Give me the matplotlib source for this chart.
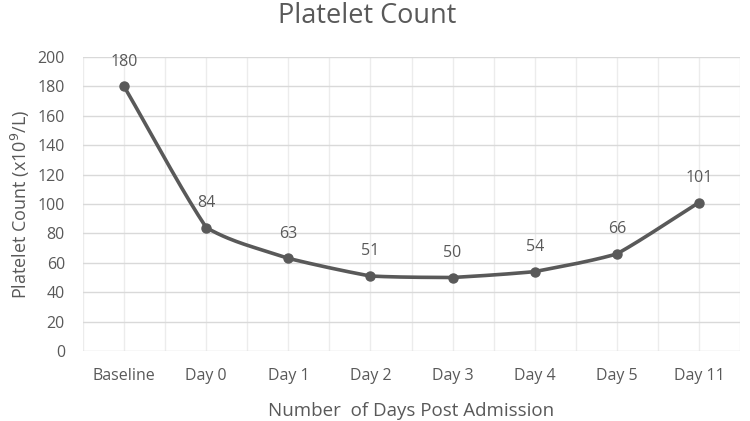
import numpy as np
import matplotlib
matplotlib.use("Agg")
import matplotlib.pyplot as plt

categories = ["Baseline", "Day 0", "Day 1", "Day 2", "Day 3", "Day 4", "Day 5", "Day 11"]
platelets = [180, 84, 63, 51, 50, 54, 66, 101]
y_ticks = [0, 20, 40, 60, 80, 100, 120, 140, 160, 180, 200]

plt.rcParams['font.family'] = ['Open Sans', 'DejaVu Sans']
TXT = "#595959"

fig = plt.figure(figsize=(7.5, 4.21), dpi=100)
ax = fig.add_axes([83/750, 1 - 351/421, (740-83)/750, (351-57)/421])

x = np.arange(len(categories))
y = np.array(platelets, dtype=float)

# lightly smoothed rendering of the line between data points (cubic Hermite)
def smooth(xs, ys, tension=0.3, n=30):
    m = np.zeros_like(ys)
    m[1:-1] = (ys[2:] - ys[:-2]) / 2
    m[0] = ys[1] - ys[0]
    m[-1] = ys[-1] - ys[-2]
    ox, oy = [], []
    for i in range(len(xs) - 1):
        t = np.linspace(0, 1, n, endpoint=False)
        h00 = 2*t**3 - 3*t**2 + 1
        h10 = t**3 - 2*t**2 + t
        h01 = -2*t**3 + 3*t**2
        h11 = t**3 - t**2
        d = ys[i+1] - ys[i]
        m0 = tension*m[i] + (1 - tension)*d
        m1 = tension*m[i+1] + (1 - tension)*d
        oy.extend(h00*ys[i] + h10*m0 + h01*ys[i+1] + h11*m1)
        ox.extend(xs[i] + t)
    ox.append(xs[-1]); oy.append(ys[-1])
    return np.array(ox), np.array(oy)

sx, sy = smooth(x.astype(float), y)
ax.plot(sx, sy, color=TXT, lw=2.6, solid_capstyle='round', zorder=3)
ax.plot(x, y, 'o', color=TXT, ms=6.5, zorder=4)

for xi, yi in zip(x, platelets):
    ax.annotate(str(yi), (xi, yi), xytext=(0, 12), textcoords='offset points',
                ha='center', va='bottom', fontsize=11.5, color=TXT)

ax.set_xlim(-0.5, len(categories) - 0.5)
ax.set_ylim(0, 200)
ax.set_yticks(y_ticks)
ax.set_xticks(x)
ax.set_xticklabels(categories)
ax.set_xticks(np.arange(-0.5, len(categories), 1.0), minor=True)
ax.grid(True, axis='y', color='#d9d9d9', lw=1)
ax.grid(True, axis='x', which='major', color='#ececec', lw=1)
ax.grid(True, axis='x', which='minor', color='#ececec', lw=1)
ax.set_axisbelow(True)
for s in ax.spines.values():
    s.set_visible(False)
ax.tick_params(which='both', length=0, colors=TXT, labelsize=11.5)
ax.tick_params(axis='x', pad=12)
ax.tick_params(axis='y', pad=13)

ax.set_ylabel("Platelet Count (x10$^{9}$/L)", fontsize=13, color=TXT, labelpad=4)
ax.set_xlabel("Number  of Days Post Admission", fontsize=13.5, color=TXT, labelpad=13)
fig.text(0.49, 1 - 16/421, "Platelet Count", ha='center', va='center', fontsize=19.5, color=TXT)

fig.savefig("out.png", dpi=100)
